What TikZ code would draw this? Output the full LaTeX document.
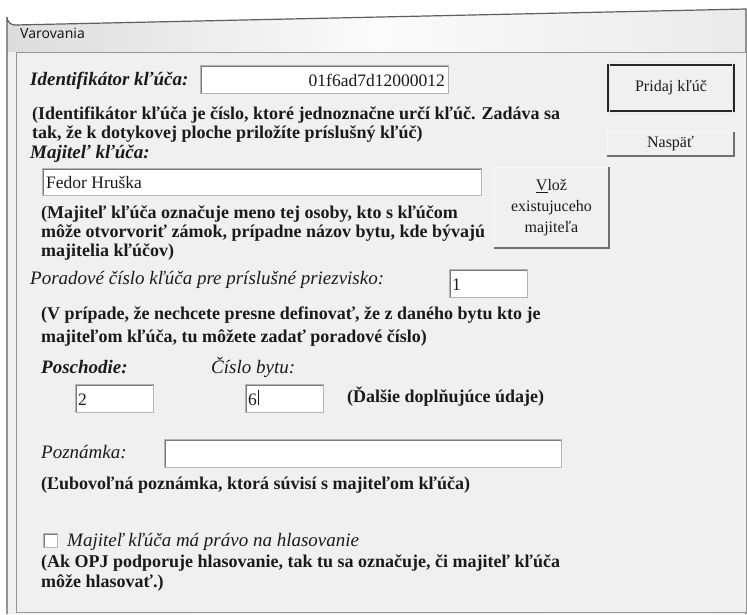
\documentclass[tikz,border=0pt]{standalone}
\usepackage{fontspec}
\setmainfont{Liberation Serif}
\newfontfamily\uifont{Noto Sans}
\usetikzlibrary{calc}
\definecolor{panel}{HTML}{F0F0F0}
\definecolor{titlebg}{HTML}{DCDCDC}
\definecolor{framec}{HTML}{5E5E5E}
\definecolor{ink}{HTML}{1A1A1A}
\definecolor{boxline}{HTML}{B4B4B4}
\definecolor{boxdark}{HTML}{7A7A7A}
\definecolor{btnlight}{HTML}{FAFAFA}
\definecolor{btndark}{HTML}{707070}
\begin{document}
\begin{tikzpicture}[x=1pt,y=-1pt,
  lbl/.style={anchor=base west, inner sep=0pt, text=ink, font=\fontsize{19}{21}\selectfont\bfseries\itshape},
  ilbl/.style={anchor=base west, inner sep=0pt, text=ink, font=\fontsize{19}{21}\selectfont\itshape},
  para/.style={anchor=base west, inner sep=0pt, text=ink, font=\fontsize{18}{20}\selectfont\bfseries},
  val/.style={anchor=base west, inner sep=0pt, text=ink, font=\fontsize{17.5}{20}\selectfont},
  entry/.style={draw=boxline, fill=white, line width=1pt, inner sep=0pt, anchor=north west,
    path picture={\draw[boxdark, line width=2.4pt] (path picture bounding box.south west) -- (path picture bounding box.north west) -- (path picture bounding box.north east);}},
  btn/.style={draw=btnlight, line width=1pt, fill=panel, inner sep=0pt, anchor=north west, text=ink, align=center,
    font=\fontsize{16}{21}\selectfont},
  btnshade/.style={btndark, line width=1.6pt},
]
\useasboundingbox (0,0) rectangle (747,614);
\fill[white] (0,0) rectangle (747,614);
% window frame
\path[left color=titlebg, right color=titlebg!60!white, middle color=white!97!gray]
  (7,614) -- (7,17) arc[start angle=180, end angle=90, radius=8] -- (746,9) -- (746,614) -- cycle;
\fill[panel] (7,52) rectangle (746,614);
\draw[framec, line width=1.2pt] (7,614) -- (7,17) arc[start angle=180, end angle=90, radius=8] -- (746,9) -- (746,614);
\node[anchor=base west, inner sep=0pt, text=ink, font=\uifont\fontsize{14}{16}\selectfont] (title) at (20,38) {Varovania};
% inner panel
\draw[boxdark!80, line width=1pt, fill=panel] (16,52) rectangle (746,612);

% key identifier
\node[lbl] (idlbl) at (30,85) {Identifikátor kľúča:};
\node[entry, minimum width=248pt, minimum height=28pt] (idbox) at (200,65) {};
\node[val, anchor=base east] (idval) at (445,86) {01f6ad7d12000012};
\node[para] (p1a) at (32,119) {(Identifikátor kľúča je číslo, ktoré jednoznačne určí kľúč. Zadáva sa};
\node[para] (p1b) at (32,138) {tak, že k dotykovej ploche priložíte príslušný kľúč)};

% buttons right
\node[btn, draw=black!85, line width=2pt, minimum width=126pt, minimum height=46pt] (add) at (607,64) {Pridaj kľúč};
\draw[white!80!gray, line width=0.8pt] ([shift={(2.5pt,-2.5pt)}]add.south west) rectangle ([shift={(-2.5pt,2.5pt)}]add.north east);
\node[btn, minimum width=126pt, minimum height=23pt] (back) at (607,132) {Naspäť};
\draw[btnshade] (back.south west) -- (back.south east) -- (back.north east);

% owner
\node[lbl] (ownlbl) at (30,158) {Majiteľ kľúča:};
\node[entry, minimum width=439pt, minimum height=27pt] (ownbox) at (42,168) {};
\node[val] (ownval) at (46,188) {Fedor Hruška};
\node[btn, minimum width=114pt, minimum height=80pt] (insert) at (494,167) {\underline{V}lož\\existujuceho\\majiteľa};
\draw[btnshade] (insert.south west) -- (insert.south east) -- (insert.north east);
\node[para] (p2a) at (41,218) {(Majiteľ kľúča označuje meno tej osoby, kto s kľúčom};
\node[para] (p2b) at (41,237) {môže otvorvoriť zámok, prípadne názov bytu, kde bývajú};
\node[para] (p2c) at (41,256) {majitelia kľúčov)};

% order number
\node[ilbl] (ordlbl) at (30,284) {Poradové číslo kľúča pre príslušné priezvisko:};
\node[entry, minimum width=78pt, minimum height=28pt] (ordbox) at (449,269) {};
\node[val] (ordval) at (452,290) {1};
\node[para] (p3a) at (41,319) {(V prípade, že nechcete presne definovať, že z daného bytu kto je};
\node[para] (p3b) at (41,342) {majiteľom kľúča, tu môžete zadať poradové číslo)};

% floor / flat
\node[lbl] (floorlbl) at (41,373) {Poschodie:};
\node[ilbl] (flatlbl) at (211,373) {Číslo bytu:};
\node[entry, minimum width=78pt, minimum height=28pt] (floorbox) at (75,384) {};
\node[val] (floorval) at (78,405) {2};
\node[entry, minimum width=78pt, minimum height=28pt] (flatbox) at (245,384) {};
\node[val] (flatval) at (248,405) {6};
\draw[ink, line width=0.8pt] ([xshift=1pt]flatval.base east) -- ++(0,-15);
\node[para] (extra) at (347,402) {(Ďalšie doplňujúce údaje)};

% note
\node[ilbl] (notelbl) at (41,458) {Poznámka:};
\node[entry, minimum width=397pt, minimum height=28pt] (notebox) at (164,439) {};
\node[para] (p4) at (41,489) {(Ľubovoľná poznámka, ktorá súvisí s majiteľom kľúča)};

% vote
\node[entry, draw=boxline, minimum width=14pt, minimum height=14pt] (chk) at (43,533) {};
\node[ilbl] (votelbl) at (67,546) {Majiteľ kľúča má právo na hlasovanie};
\node[para] (p5a) at (41,567) {(Ak OPJ podporuje hlasovanie, tak tu sa označuje, či majiteľ kľúča};
\node[para] (p5b) at (41,587) {môže hlasovať.)};
\end{tikzpicture}
\end{document}
